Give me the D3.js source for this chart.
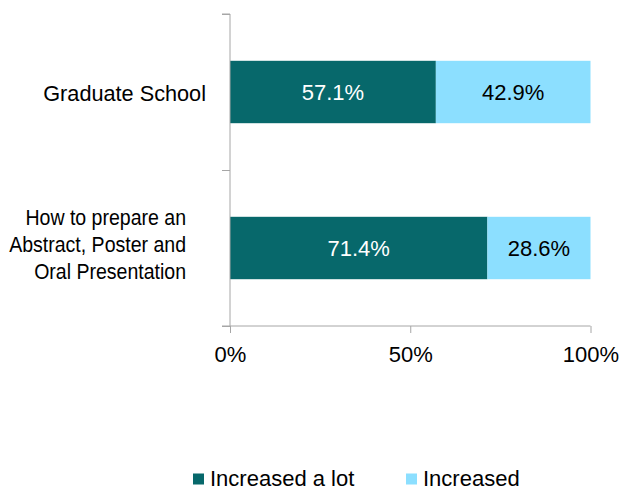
<!DOCTYPE html>
<html lang="en">
    <head>
        <meta charset="utf-8">
        <title>Stacked Bar Chart</title>
        <script src="https://d3js.org/d3.v7.min.js"></script>
        <style type="text/css">
            body { margin: 0; background: white; }
            text { font-family: "Liberation Sans", Arial, sans-serif; fill: black; }
        </style>
    </head>
    <body>
        <svg width="623" height="491"></svg>
        <script type="text/javascript">

            // data
            const categories = ["Graduate School", "How to prepare an\nAbstract, Poster and\nOral Presentation"];
            const seriesNames = ["Increased a lot", "Increased"];
            const increasedALot = [57.1, 71.4];
            const increased = [42.9, 28.6];
            const xTicks = [0, 50, 100];

            const colors = ["#07686b", "#8cdfff"];
            const axisColor = "#a6a6a6";

            const svg = d3.select("svg");
            const plotLeft = 230, plotRight = 590.5, plotTop = 14, plotBottom = 326;

            const x = d3.scaleLinear().domain([0, 100]).range([plotLeft, plotRight]);
            const y = d3.scaleBand()
                        .domain(categories)
                        .range([plotTop, plotBottom])
                        .paddingInner(0.6)
                        .paddingOuter(0.3);
            // category separators on the y axis
            const yEdge = d3.scaleLinear().domain([0, categories.length]).range([plotTop, plotBottom]);

            const rows = categories.map((c, i) => ({cat: c, vals: [increasedALot[i], increased[i]]}));

            // bars
            rows.forEach(r => {
                let acc = 0;
                r.vals.forEach((v, k) => {
                    svg.append("rect")
                       .attr("x", x(acc))
                       .attr("y", y(r.cat))
                       .attr("width", x(acc + v) - x(acc))
                       .attr("height", y.bandwidth())
                       .style("fill", colors[k]);
                    svg.append("text")
                       .attr("x", (x(acc) + x(acc + v)) / 2)
                       .attr("y", y(r.cat) + y.bandwidth() / 2 + 8)
                       .attr("text-anchor", "middle")
                       .style("font-size", "22px")
                       .style("fill", k === 0 ? "white" : "black")
                       .text(v.toFixed(1) + "%");
                    acc += v;
                });
            });

            // y axis
            const yAxis = svg.append("g")
                .attr("transform", `translate(${plotLeft},0)`)
                .call(d3.axisLeft(yEdge).tickValues(d3.range(categories.length + 1)).tickSize(8).tickFormat(""));
            yAxis.selectAll("path, line").attr("stroke", axisColor);
            yAxis.select(".domain").attr("d", `M-8,${plotTop}H0V${plotBottom}H-8`);

            // x axis
            const xAxis = svg.append("g")
                .attr("transform", `translate(0,${plotBottom})`)
                .call(d3.axisBottom(x).tickValues(xTicks).tickSize(7).tickFormat(d => d + "%"));
            xAxis.selectAll("path, line").attr("stroke", axisColor);
            xAxis.select(".domain").attr("d", `M${plotLeft},0H${plotRight}`);
            xAxis.selectAll("text")
                 .attr("y", 36)
                 .attr("dy", 0)
                 .style("font-size", "22px")
                 .style("font-family", "'Liberation Sans', Arial, sans-serif")
                 .attr("fill", "black");

            // category labels
            categories.forEach(c => {
                const lines = c.split("\n");
                const cy = y(c) + y.bandwidth() / 2;
                if (lines.length === 1) {
                    svg.append("text")
                       .attr("x", 206)
                       .attr("y", cy + 8.5)
                       .attr("text-anchor", "end")
                       .style("font-size", "21.7px")
                       .text(c);
                } else {
                    const g = svg.append("g").attr("transform", "translate(186,0) scale(0.9,1)");
                    lines.forEach((ln, i) => {
                        g.append("text")
                         .attr("x", 0)
                         .attr("y", cy + 4.3 + (i - (lines.length - 1) / 2) * 27.2)
                         .attr("text-anchor", "end")
                         .style("font-size", "21.7px")
                         .text(ln);
                    });
                }
            });

            // legend
            const legendX = [193, 406];
            seriesNames.forEach((s, i) => {
                svg.append("rect")
                   .attr("x", legendX[i])
                   .attr("y", 473.5)
                   .attr("width", 11)
                   .attr("height", 11)
                   .style("fill", colors[i]);
                svg.append("text")
                   .attr("x", legendX[i] + 17)
                   .attr("y", 486)
                   .style("font-size", "22px")
                   .text(s);
            });

        </script>
    </body>
</html>
